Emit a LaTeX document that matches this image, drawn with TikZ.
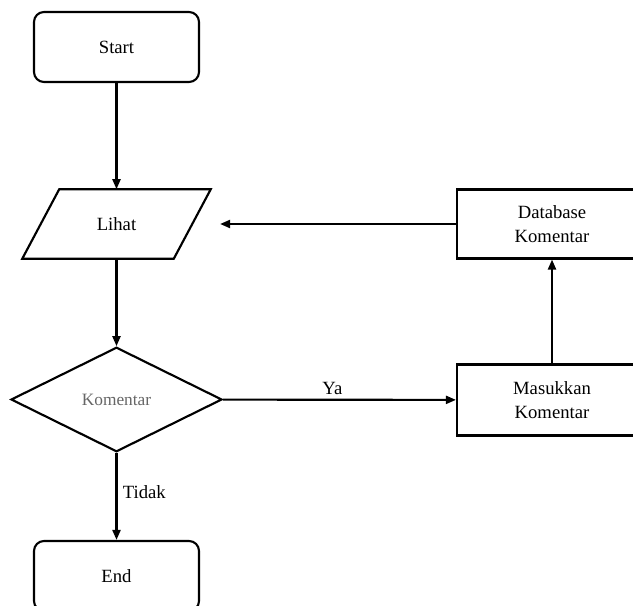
\documentclass[tikz,border=0pt]{standalone}
\usepackage{fontspec}
\setmainfont{Liberation Serif}
\usetikzlibrary{shapes.geometric,arrows.meta}
\begin{document}
\begin{tikzpicture}[x=0.75pt,y=-0.75pt,
  every node/.style={font=\fontsize{14}{18.5}\selectfont, align=center, inner sep=0pt},
  box/.style={draw, line width=1.6pt, minimum width=142.5pt, minimum height=52.5pt},
  term/.style={draw, line width=1.6pt, rounded corners=7.5pt, minimum width=123.75pt, minimum height=52.5pt},
  dec/.style={draw, line width=1.6pt, diamond, aspect=2.02, minimum width=158.25pt, minimum height=78.4pt},
  conn/.style={line width=1.6pt, -{Triangle[length=7.5pt,width=6pt]}},
  lbl/.style={font=\fontsize{14}{18}\selectfont}]
\useasboundingbox (0,0) rectangle (633,606);
\clip (0,0) rectangle (633,606);
\node[term] (start) at (116.5,47) {Start};
\node[minimum width=141pt, minimum height=51.75pt] (lihat) at (116.5,224) {Lihat};
\draw[line width=1.6pt] ([xshift=27.75pt]lihat.north west) -- (lihat.north east)
  -- ([xshift=-27.75pt]lihat.south east) -- (lihat.south west) -- cycle;
\node[dec, inner sep=0pt] (dec) at (116.5,399.5) {\fontsize{13}{16}\selectfont\color{black!60}Komentar};
\node[term] (end) at (116.5,576) {End};
\node[box, minimum height=51.75pt] (db) at (552,224) {Database\\Komentar};
\node[box, minimum height=53.25pt] (mk) at (552,400) {Masukkan\\Komentar};
\draw[conn] (start) -- (lihat);
\draw[conn] (lihat) -- (dec);
\draw[conn] (dec) -- node[lbl, right=4pt, pos=0.45] {Tidak} (end);
\draw[conn] (dec) -- node[lbl, above=3pt, pos=0.47] {Ya} (mk);
\draw[conn] (mk) -- (db);
\draw[conn, shorten >=7pt] (db.west) -- (lihat.east |- db.west);
\end{tikzpicture}
\end{document}
